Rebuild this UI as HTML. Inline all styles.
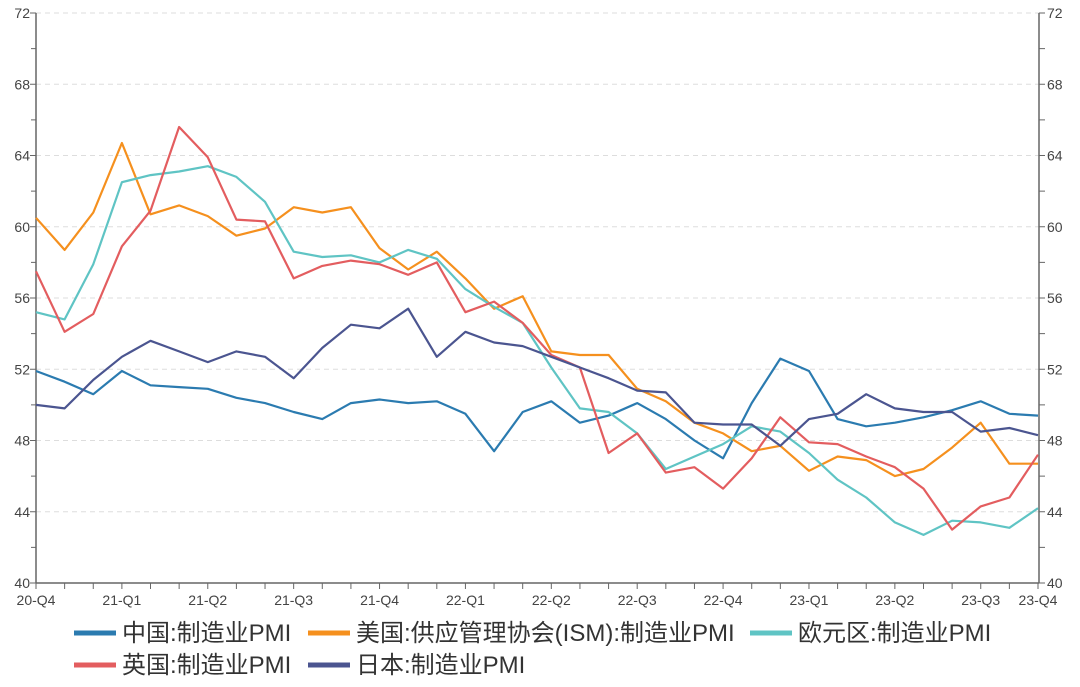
<!DOCTYPE html>
<html><head><meta charset="utf-8"><style>
body{margin:0;background:#fff;width:1080px;height:687px;overflow:hidden}
svg{display:block;font-family:"Liberation Sans","Noto Sans CJK SC",sans-serif}
</style></head><body>
<svg id="c" width="1080" height="687" xmlns="http://www.w3.org/2000/svg"></svg>
<script>
const S=document.getElementById('c');
const X0=36,X1=1038,AR=1039,Y0=583,Y1=13;
const step=(X1-X0)/35;
const y=v=>Y0-(v-40)*(Y0-Y1)/32;
let h='';
for(let v=44;v<=72;v+=4){const yy=y(v);h+=`<line x1="${X0}" x2="${AR}" y1="${yy}" y2="${yy}" stroke="#ddd" stroke-dasharray="5,4"/>`;}
h+=`<line x1="${X0}" x2="${X0}" y1="${Y1}" y2="${Y0}" stroke="#666" stroke-width="1.5"/>`;
h+=`<line x1="${AR}" x2="${AR}" y1="${Y1}" y2="${Y0}" stroke="#666" stroke-width="1.5"/>`;
h+=`<line x1="${X0}" x2="${AR}" y1="${Y0}" y2="${Y0}" stroke="#666" stroke-width="1.5"/>`;
for(let v=40;v<=72;v+=2){const yy=y(v);const maj=v%4==0;
h+=`<line x1="${X0-(maj?6:5)}" x2="${X0}" y1="${yy}" y2="${yy}" stroke="#666"/>`;
h+=`<line x1="${AR}" x2="${AR+6}" y1="${yy}" y2="${yy}" stroke="#666"/>`;
if(maj){h+=`<text x="${X0-6}" y="${yy+5}" text-anchor="end" font-size="14" fill="#444">${v}</text>`;
h+=`<text x="${AR+8}" y="${yy+5}" font-size="14" fill="#444">${v}</text>`;}}
for(let i=0;i<=35;i++){const xx=X0+i*step;h+=`<line x1="${xx}" x2="${xx}" y1="${Y0}" y2="${Y0+6}" stroke="#666"/>`;}
const labs=["20-Q4","21-Q1","21-Q2","21-Q3","21-Q4","22-Q1","22-Q2","22-Q3","22-Q4","23-Q1","23-Q2","23-Q3"];
labs.forEach((l,k)=>{const xx=k==0?X0:X0+(3*k)*step;h+=`<text x="${xx}" y="${Y0+22}" text-anchor="middle" font-size="14" fill="#444">${l}</text>`;});
h+=`<text x="${X1}" y="${Y0+22}" text-anchor="middle" font-size="14" fill="#444">23-Q4</text>`;
const D={
"#2b7bb0":[51.9,51.3,50.6,51.9,51.1,51.0,50.9,50.4,50.1,49.6,49.2,50.1,50.3,50.1,50.2,49.5,47.4,49.6,50.2,49.0,49.4,50.1,49.2,48.0,47.0,50.1,52.6,51.9,49.2,48.8,49.0,49.3,49.7,50.2,49.5,49.4],
"#f5901e":[60.5,58.7,60.8,64.7,60.7,61.2,60.6,59.5,59.9,61.1,60.8,61.1,58.8,57.6,58.6,57.1,55.4,56.1,53.0,52.8,52.8,50.9,50.2,49.0,48.4,47.4,47.7,46.3,47.1,46.9,46.0,46.4,47.6,49.0,46.7,46.7],
"#5fc4c4":[55.2,54.8,57.9,62.5,62.9,63.1,63.4,62.8,61.4,58.6,58.3,58.4,58.0,58.7,58.2,56.5,55.5,54.6,52.1,49.8,49.6,48.4,46.4,47.1,47.8,48.8,48.5,47.3,45.8,44.8,43.4,42.7,43.5,43.4,43.1,44.2],
"#e35d5f":[57.5,54.1,55.1,58.9,60.9,65.6,63.9,60.4,60.3,57.1,57.8,58.1,57.9,57.3,58.0,55.2,55.8,54.6,52.8,52.1,47.3,48.4,46.2,46.5,45.3,47.0,49.3,47.9,47.8,47.1,46.5,45.3,43.0,44.3,44.8,47.2],
"#4b5590":[50.0,49.8,51.4,52.7,53.6,53.0,52.4,53.0,52.7,51.5,53.2,54.5,54.3,55.4,52.7,54.1,53.5,53.3,52.7,52.1,51.5,50.8,50.7,49.0,48.9,48.9,47.7,49.2,49.5,50.6,49.8,49.6,49.6,48.5,48.7,48.3]};
for(const c in D){const p=D[c].slice(0,36).map((v,i)=>(X0+i*step).toFixed(1)+','+y(v).toFixed(1)).join(' ');
h+=`<polyline points="${p}" fill="none" stroke="${c}" stroke-width="2.2" stroke-linejoin="round"/>`;}
const L=[[74,633,"#2b7bb0","中国:制造业PMI"],[308,633,"#f5901e","美国:供应管理协会(ISM):制造业PMI"],[750,633,"#5fc4c4","欧元区:制造业PMI"],[74,665,"#e35d5f","英国:制造业PMI"],[308,665,"#4b5590","日本:制造业PMI"]];
L.forEach(([x,yy,c,t])=>{h+=`<line x1="${x}" x2="${x+42}" y1="${yy}" y2="${yy}" stroke="${c}" stroke-width="5"/>`;
h+=`<text x="${x+48}" y="${yy+8}" font-size="24" fill="#333">${t}</text>`;});
S.innerHTML=h;
</script>
</body></html>
